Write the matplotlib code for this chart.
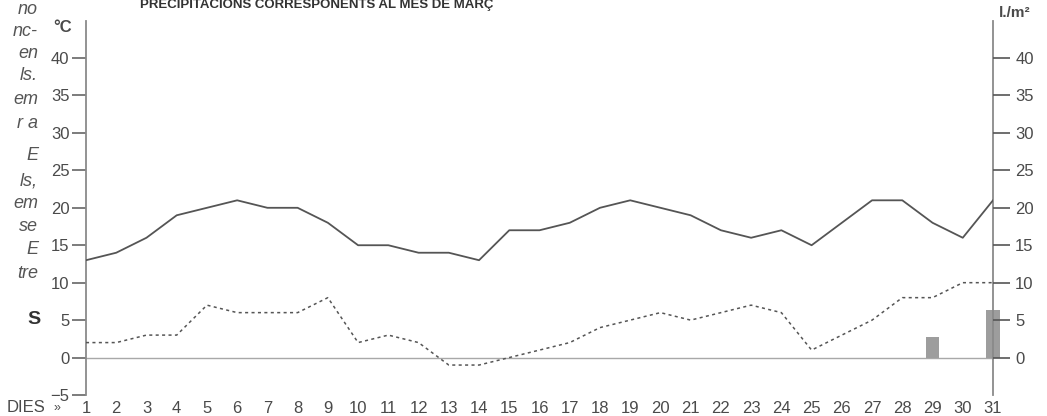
import matplotlib
matplotlib.use("Agg")
import matplotlib.pyplot as plt
from matplotlib import font_manager as fm

days = list(range(1, 32))
t_max = [13, 14, 16, 19, 20, 21, 20, 20, 18, 15, 15, 14, 14, 13, 17, 17, 18, 20, 21, 20,
         19, 17, 16, 17, 15, 18, 21, 21, 18, 16, 21]
t_min = [2, 2, 3, 3, 7, 6, 6, 6, 8, 2, 3, 2, -1, -1, 0, 1, 2, 4, 5, 6,
         5, 6, 7, 6, 1, 3, 5, 8, 8, 10, 10]
precip = [0] * 28 + [2.8, 0, 6.4]
left_ticks = [-5, 0, 5, 10, 15, 20, 25, 30, 35, 40]
right_ticks = [0, 5, 10, 15, 20, 25, 30, 35, 40]
title = "PRECIPITACIONS CORRESPONENTS AL MES DE MARÇ"
side_lines = ["no", "nc-", "en", "ls.", "em", "r a", "E", "ls,", "em", "se", "E", "tre"]
side_y = [10, 32, 54, 76, 100, 124, 155, 181, 204, 227, 249, 274]

avail = {f.name for f in fm.fontManager.ttflist}
narrow = "Liberation Sans Narrow" if "Liberation Sans Narrow" in avail else "Liberation Sans"
plt.rcParams['font.family'] = [narrow, 'DejaVu Sans']

W, H = 1047, 416
fig = plt.figure(figsize=(W / 100, H / 100), dpi=100)
ax = fig.add_axes([86 / W, (H - 395) / H, (993 - 86) / W, (395 - 20.6) / H])
ax.set_xlim(1, 31)
ax.set_ylim(-5, 45)

gray = "#8a8a8a"
txt = "#4a4a4a"
for s in ["top", "bottom"]:
    ax.spines[s].set_visible(False)
for s in ["left", "right"]:
    ax.spines[s].set_color(gray)
    ax.spines[s].set_linewidth(1.3)

ax.axhline(0, color="#a8a8a8", lw=1.0, zorder=1)
ax.bar(days, precip, width=0.46, color="#9d9d9d", clip_on=False, zorder=2)
ax.plot(days, t_max, color="#555555", lw=1.3, zorder=3)
ax.plot(days, t_min, color="#555555", lw=1.1, ls=(0, (2, 2.2)), zorder=3)

ax.set_yticks(left_ticks)
ax.set_yticklabels([str(v).replace("-", "\u2212") for v in left_ticks])
ax.tick_params(axis="y", which="both", direction="out", length=10, width=1.2,
               color="#666666", labelsize=12, labelcolor=txt, pad=2)
ax.set_xticks(days)
ax.set_xticklabels([str(d) for d in days])
ax.tick_params(axis="x", length=0, labelsize=12, labelcolor=txt, pad=4)

ax2 = ax.twinx()
ax2.set_ylim(-5, 45)
ax2.set_yticks(right_ticks)
ax2.set_yticklabels([str(v) for v in right_ticks])
for s in ["top", "bottom", "left", "right"]:
    ax2.spines[s].set_visible(False)
ax2.tick_params(axis="y", direction="out", length=12, width=1.2, color="#555555",
                labelsize=12, labelcolor=txt, pad=4)

fig.text(63 / W, 1 - 27 / H, "°C", fontsize=12, fontweight="bold", color=txt,
         ha="center", va="center")
fig.text(1015 / W, 1 - 13 / H, "l./m²", fontsize=11, fontweight="bold", color=txt,
         ha="center", va="center")
fig.text(140 / W, 1 - 8 / H, title, fontsize=9.5, fontweight="bold", color="#333333",
         ha="left", va="baseline")
fig.text(45 / W, 1 - 407 / H, "DIES", fontsize=12, color=txt, ha="right", va="center")
fig.text(57 / W, 1 - 408 / H, "»", fontsize=9, color=txt, ha="center", va="center")

for s, yy in zip(side_lines, side_y):
    fig.text(38 / W, 1 - yy / H, s, fontsize=13, style="italic", color="#555555",
             ha="right", va="center")
fig.text(40 / W, 1 - 319 / H, "S", fontsize=14, fontweight="bold", color="#333333",
         ha="right", va="center")

fig.savefig("out.png", dpi=100)
